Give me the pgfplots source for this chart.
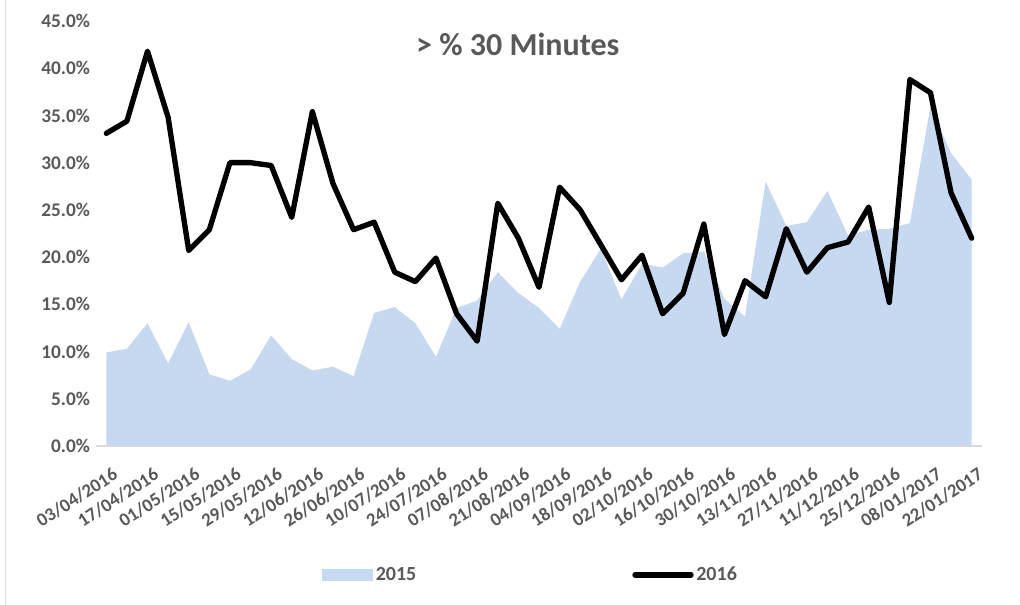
\documentclass[border=0pt]{standalone}
\usepackage{pgfplots}
\pgfplotsset{compat=1.18}
\usepackage{fontspec}
\setmainfont{Carlito}
\definecolor{areablue}{RGB}{198,217,240}
\definecolor{txtgray}{RGB}{89,89,89}
\definecolor{axgray}{RGB}{217,217,217}
\begin{document}
\begin{tikzpicture}
\useasboundingbox (-72pt,-119.25pt) rectangle (693pt,334.5pt);
\begin{axis}[
  at={(0,0)}, anchor=south west,
  scale only axis,
  width=664.5pt, height=318.75pt,
  xmin=-0.5, xmax=42.5,
  ymin=0, ymax=45,
  axis lines*=left,
  x axis line style={draw=axgray, line width=1.5pt, -},
  y axis line style={draw=none},
  major tick length=0pt,
  tick style={draw=none},
  xtick={0,2,...,42},
  xticklabels={03/04/2016,17/04/2016,01/05/2016,15/05/2016,29/05/2016,12/06/2016,26/06/2016,10/07/2016,24/07/2016,07/08/2016,21/08/2016,04/09/2016,18/09/2016,02/10/2016,16/10/2016,30/10/2016,13/11/2016,27/11/2016,11/12/2016,25/12/2016,08/01/2017,22/01/2017},
  xticklabel style={rotate=33, anchor=north east, font=\fontsize{14}{15}\selectfont\bfseries, text=txtgray, inner sep=1pt, yshift=-14pt, xshift=-4pt},
  ytick={0,5,...,45},
  yticklabel={\pgfmathprintnumber[fixed,fixed zerofill,precision=1,assume math mode=true]{\tick}\%},
  yticklabel style={font=\fontsize{14.5}{15}\selectfont\bfseries, text=txtgray, anchor=east, xshift=-1pt},
  legend style={at={(0.491,-0.3035)}, anchor=center, draw=none, fill=none,
    legend columns=2, font=\fontsize{15}{16}\selectfont\bfseries, text=txtgray,
    /tikz/every even column/.append style={column sep=160pt}},
  legend cell align=left,
]
\addplot[fill=areablue, draw=none,
  legend image code/.code={\fill[areablue] (0pt,-4.5pt) rectangle (38pt,4.5pt);}]
  coordinates {
  (0,9.9)(1,10.3)(2,13.0)(3,8.75)(4,13.1)(5,7.6)(6,6.9)(7,8.1)(8,11.7)(9,9.2)
  (10,8.0)(11,8.4)(12,7.4)(13,14.1)(14,14.7)(15,13.0)(16,9.45)(17,14.6)(18,15.4)(19,18.4)
  (20,16.2)(21,14.6)(22,12.4)(23,17.4)(24,20.9)(25,15.5)(26,19.3)(27,18.9)(28,20.4)(29,20.6)
  (30,15.6)(31,13.7)(32,28.0)(33,23.3)(34,23.7)(35,27.0)(36,22.3)(37,22.9)(38,23.0)(39,23.6)
  (40,36.0)(41,31.0)(42,28.2)
  } \closedcycle;
\addlegendentry{2015}
\addplot[black, line width=4pt, line cap=round, line join=round,
  legend image code/.code={\draw[black, line width=4pt, line cap=round] (0pt,0pt) -- (42pt,0pt);}]
  coordinates {
  (0,33.1)(1,34.4)(2,41.8)(3,34.8)(4,20.7)(5,22.9)(6,30.0)(7,30.0)(8,29.7)(9,24.2)
  (10,35.4)(11,27.8)(12,22.9)(13,23.7)(14,18.4)(15,17.4)(16,19.9)(17,14.0)(18,11.1)(19,25.7)
  (20,22.0)(21,16.8)(22,27.4)(23,25.0)(24,21.3)(25,17.6)(26,20.2)(27,14.0)(28,16.2)(29,23.5)
  (30,11.8)(31,17.5)(32,15.8)(33,23.0)(34,18.4)(35,21.0)(36,21.6)(37,25.3)(38,15.2)(39,38.8)
  (40,37.4)(41,26.8)(42,22.0)
  };
\addlegendentry{2016}
\node[font=\fontsize{24}{28}\selectfont\bfseries, text=txtgray] at (rel axis cs:0.476,0.944) {> \% 30 Minutes};
\end{axis}
\draw[axgray, line width=0.75pt] (-68pt,-119.25pt) -- (-68pt,334.5pt);
\end{tikzpicture}
\end{document}
